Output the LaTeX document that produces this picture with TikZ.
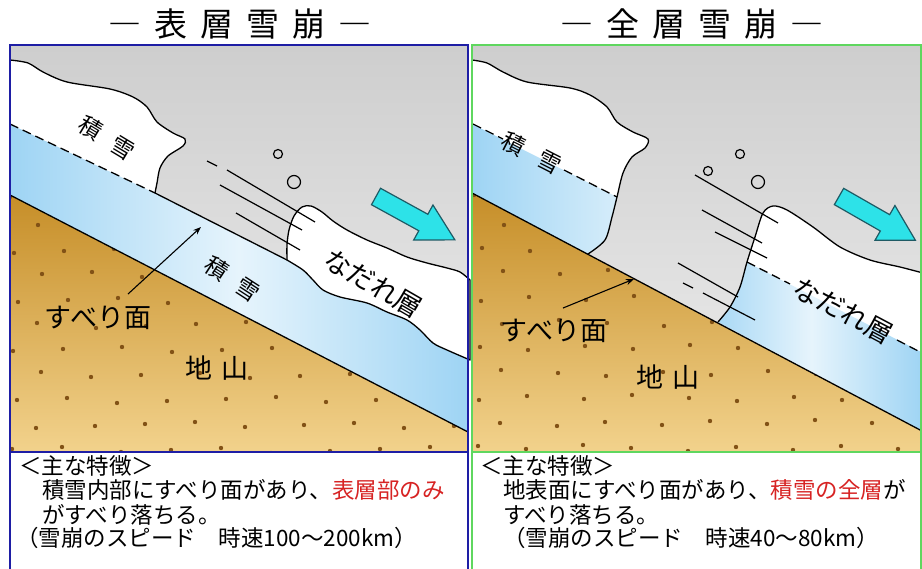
\documentclass[tikz,border=0pt]{standalone}
\usepackage{fontspec}
\setmainfont{Noto Sans CJK JP}
\usetikzlibrary{arrows.meta}

\definecolor{skytop}{RGB}{206,206,206}
\definecolor{skybot}{RGB}{238,238,238}
\definecolor{gnddark}{RGB}{198,142,40}
\definecolor{gndlight}{RGB}{242,210,140}
\definecolor{gnddot}{RGB}{130,82,22}
\definecolor{snowblue}{RGB}{158,212,244}
\definecolor{snowpale}{RGB}{230,244,252}
\definecolor{flowcyan}{RGB}{45,226,232}
\definecolor{flowedge}{RGB}{30,90,100}
\definecolor{panelblue}{RGB}{30,30,165}
\definecolor{panelgreen}{RGB}{95,215,95}
\definecolor{notered}{RGB}{215,35,35}

\newcommand{\hgap}{\hspace{13pt}}

\tikzset{
  heading/.style={font=\fontsize{33}{33}\selectfont, inner sep=0pt, anchor=base},
  tag/.style={font=\fontsize{23}{23}\selectfont, inner sep=0pt},
  bigtag/.style={font=\fontsize{27}{27}\selectfont, inner sep=0pt},
  note/.style={font=\fontsize{22.5}{24}\selectfont, inner sep=0pt, anchor=base west},
  outline/.style={line width=1.3pt, line join=round},
  slipdash/.style={line width=1.3pt, dash pattern=on 9pt off 5pt},
  streak/.style={line width=1.2pt},
  puff/.style={line width=1.2pt},
  grain/.style={fill=gnddot},
  ptr/.style={line width=1.1pt, -{Stealth[length=8pt,width=6pt]}},
  flowarrow/.style={fill=flowcyan, draw=flowedge, line width=1.2pt, line join=miter},
  panelL/.style={draw=panelblue, line width=2pt},
  panelR/.style={draw=panelgreen, line width=2pt},
}

\begin{document}
\begin{tikzpicture}[x=1pt,y=-1pt]
\clip (0,0) rectangle (922,569);
\fill[white] (0,0) rectangle (922,569);

%%%% surface-layer avalanche
\node[heading] (titleL) at (240,37) {―\hgap 表\hgap 層\hgap 雪\hgap 崩\hgap ―};
\shade[top color=skytop,bottom color=skybot] (10,45) rectangle (468,452);

% ground
\shade[top color=gnddark,bottom color=gndlight] (10,195) -- (468,432) -- (468,452) -- (10,452) -- cycle;
\begin{scope}
  \clip (10,195) -- (468,432) -- (468,452) -- (10,452) -- cycle;
  \foreach \r in {0,...,10}
    \foreach \c in {0,...,9}
      \fill[grain] ({14+52*\c+26*mod(\r,2)+mod(7*\c+11*\r,9)-4},{200+25*\r+mod(5*\c+3*\r,7)-3}) circle (2.2pt);
\end{scope}

% snow left under the slip plane
\shade[left color=snowblue,right color=snowblue,middle color=snowpale]
  (10,124) -- (155,193) -- (287,260) -- (468,342) -- (468,432) -- (10,195) -- cycle;

% snow still standing
\fill[white] plot[smooth] coordinates {(10,60) (28,63) (43,72) (67,82) (110,89) (133,97) (147,107) (157,122) (173,133) (185,139) (183,146) (168,156) (160,168) (157,183) (155,193)} -- (10,124) -- cycle;
\draw[outline] plot[smooth] coordinates {(10,60) (28,63) (43,72) (67,82) (110,89) (133,97) (147,107) (157,122) (173,133) (185,139) (183,146) (168,156) (160,168) (157,183) (155,193)};
\draw[slipdash] (10,124) -- (155,193);
\draw[outline] (155,193) -- (287,260);
\draw[outline] (10,195) -- (468,432);

% sliding layer
\filldraw[outline,fill=white] plot[smooth] coordinates {(287,260) (287,245) (289,230) (294,216) (302,207) (311,206) (322,212) (333,221) (347,230) (367,240) (387,248) (407,257) (427,263) (447,268) (460,272) (470,280)}
  -- (470,360) -- plot[smooth] coordinates {(470,360) (447,350) (433,343) (420,330) (407,320) (387,312) (367,303) (340,297) (323,290) (313,280) (303,270) (287,260)} -- cycle;

% motion streaks and snowballs
\draw[streak] (207,161) -- (217,166);
\draw[streak] (227,170) -- (315,222);
\draw[streak] (220,185) -- (302,230);
\draw[streak] (236,213) -- (300,250);
\draw[puff] (278,154) circle (4.5pt);
\draw[puff] (294,182) circle (6.5pt);

\begin{scope}[shift={(376,196.5)},rotate=-28.8]
  \draw[flowarrow] (0,-9.4) -- (54,-9.4) -- (54,-20) -- (90,0) -- (54,20) -- (54,9.4) -- (0,9.4) -- cycle;
\end{scope}

\node[tag,rotate=-31] (snowL) at (107,138) {積\hspace{15pt}雪};
\node[tag,rotate=-33] (bandL) at (232,279) {積\hspace{14pt}雪};
\node[bigtag,rotate=-30] (flowL) at (373,284) {なだれ層};
\node[bigtag] (slipL) at (98,318) {すべり面};
\node[bigtag] (hillL) at (217,368) {地\hspace{10pt}山};
\coordinate (slipptL) at (201,227);
\draw[ptr] ([shift={(30pt,12pt)}]slipL.north) -- (slipptL);

% notes
\fill[white] (10,452) rectangle (468,569);
\node[note] (featL) at (19,475) {＜主な特徴＞};
\node[note] (descL) at (42,499) {積雪内部にすべり面があり、\textcolor{notered}{表層部のみ}};
\node[note] (descL2) at (42,523) {がすべり落ちる。};
\node[note] (speedL) at (16,547) {（雪崩のスピード　時速100～200km）};

\draw[panelL] (10,45) rectangle (468,600);
\draw[panelL] (10,452) -- (468,452);

%%%% full-depth avalanche
\node[heading] (titleR) at (692,37) {―\hgap 全\hgap 層\hgap 雪\hgap 崩\hgap ―};
\shade[top color=skytop,bottom color=skybot] (472,45) rectangle (921,452);

% ground
\shade[top color=gnddark,bottom color=gndlight] (472,193) -- (922,431) -- (922,452) -- (472,452) -- cycle;
\begin{scope}
  \clip (472,193) -- (922,431) -- (922,452) -- (472,452) -- cycle;
  \foreach \r in {0,...,10}
    \foreach \c in {0,...,9}
      \fill[grain] ({478+52*\c+26*mod(\r,2)+mod(5*\c+13*\r,9)-4},{198+25*\r+mod(3*\c+5*\r,7)-3}) circle (2.2pt);
\end{scope}

% snow still standing
\fill[white] plot[smooth] coordinates {(472,60) (487,63) (503,72) (527,82) (570,88) (590,95) (607,107) (617,122) (633,132) (648,139) (645,148) (632,157) (623,173) (617,197) (612,217) (605,240) (588,254)} -- (472,193) -- cycle;
\begin{scope}
  \clip plot[smooth] coordinates {(472,60) (487,63) (503,72) (527,82) (570,88) (590,95) (607,107) (617,122) (633,132) (648,139) (645,148) (632,157) (623,173) (617,197) (612,217) (605,240) (588,254)} -- (472,193) -- cycle;
  \shade[left color=snowblue,right color=snowpale] (472,124) -- (617,197) -- (660,219) -- (660,300) -- (472,300) -- cycle;
\end{scope}
\draw[outline] plot[smooth] coordinates {(472,60) (487,63) (503,72) (527,82) (570,88) (590,95) (607,107) (617,122) (633,132) (648,139) (645,148) (632,157) (623,173) (617,197) (612,217) (605,240) (588,254)};
\draw[slipdash] (473,124) -- (503,139);
\draw[slipdash] (564,170) -- (617,197);

% sliding mass, whole depth
\fill[white] plot[smooth] coordinates {(718,322) (730,307) (740,287) (747,262) (755,237) (763,213) (773,206) (787,210) (813,227) (840,247) (870,260) (900,267) (923,273)} -- (923,431) -- cycle;
\begin{scope}
  \clip plot[smooth] coordinates {(718,322) (730,307) (740,287) (747,262) (755,237) (763,213) (773,206) (787,210) (813,227) (840,247) (870,260) (900,267) (923,273)} -- (923,431) -- cycle;
  \shade[left color=snowblue,right color=snowblue,middle color=snowpale] (700,238) -- (923,353) -- (923,460) -- (700,460) -- cycle;
\end{scope}
\draw[outline] plot[smooth] coordinates {(718,322) (730,307) (740,287) (747,262) (755,237) (763,213) (773,206) (787,210) (813,227) (840,247) (870,260) (900,267) (923,273)};
\draw[slipdash] (747,262) -- (790,284);
\draw[slipdash] (897,340) -- (922,353);
\draw[outline] (472,193) -- (922,431);

% motion streaks and snowballs
\draw[streak] (695,175) -- (778,223);
\draw[streak] (702,210) -- (762,243);
\draw[streak] (715,232) -- (767,258);
\draw[streak] (678,263) -- (738,297);
\draw[streak] (683,283) -- (693,288);
\draw[streak] (703,293) -- (755,320);
\draw[puff] (708,171) circle (4.5pt);
\draw[puff] (740,154) circle (4.5pt);
\draw[puff] (758,182) circle (6.5pt);

\begin{scope}[shift={(839,196.5)},rotate=-29.8]
  \draw[flowarrow] (0,-9.4) -- (53,-9.4) -- (53,-20) -- (88,0) -- (53,20) -- (53,9.4) -- (0,9.4) -- cycle;
\end{scope}

\node[tag,rotate=-27] (snowR) at (532,153) {積\hspace{17pt}雪};
\node[bigtag,rotate=-28] (flowR) at (843,311) {なだれ層};
\node[bigtag] (slipR) at (554,331) {すべり面};
\node[bigtag] (hillR) at (668,377) {地\hspace{10pt}山};
\coordinate (slipptR) at (634,279);
\draw[ptr] ([shift={(9pt,11pt)}]slipR.north) -- (slipptR);

% notes
\fill[white] (472,452) rectangle (921,569);
\node[note] (featR) at (480,475) {＜主な特徴＞};
\node[note] (descR) at (503,499) {地表面にすべり面があり、\textcolor{notered}{積雪の全層}が};
\node[note] (descR2) at (503,523) {すべり落ちる。};
\node[note] (speedR) at (503,547) {（雪崩のスピード　時速40～80km）};

\draw[panelR] (472,45) rectangle (921,600);
\draw[panelR] (472,452) -- (921,452);
\end{tikzpicture}
\end{document}
